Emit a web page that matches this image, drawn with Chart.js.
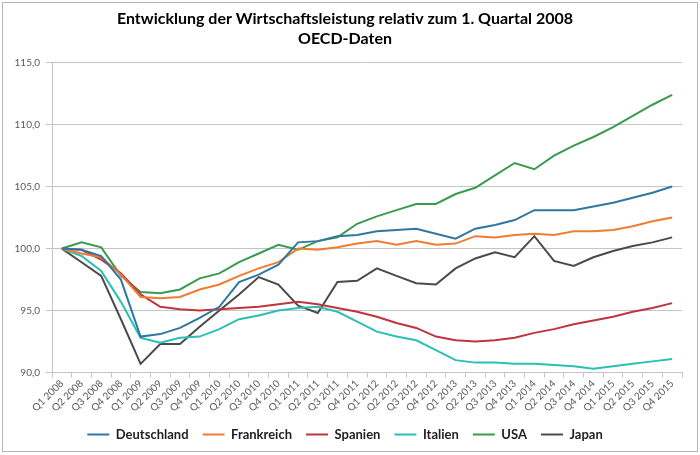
<!DOCTYPE html>
<html>
<head>
<meta charset="utf-8">
<script src="https://cdn.jsdelivr.net/npm/chart.js"></script>
<style>
html, body { margin: 0; padding: 0; background: #fff; }
#wrap { position: relative; width: 700px; height: 455px; }
#frame { position: absolute; left: 2px; top: 2px; width: 694px; height: 448px; border: 1px solid #b5b5b5; pointer-events: none; }
</style>
</head>
<body>
<div id="wrap">
  <canvas id="myChart" width="700" height="455"></canvas>
  <div id="frame"></div>
</div>
<script>
// Quartale
const quarters = [
  "Q1 2008", "Q2 2008", "Q3 2008", "Q4 2008",
  "Q1 2009", "Q2 2009", "Q3 2009", "Q4 2009",
  "Q1 2010", "Q2 2010", "Q3 2010", "Q4 2010",
  "Q1 2011", "Q2 2011", "Q3 2011", "Q4 2011",
  "Q1 2012", "Q2 2012", "Q3 2012", "Q4 2012",
  "Q1 2013", "Q2 2013", "Q3 2013", "Q4 2013",
  "Q1 2014", "Q2 2014", "Q3 2014", "Q4 2014",
  "Q1 2015", "Q2 2015", "Q3 2015", "Q4 2015"
];

// Index, Q1 2008 = 100
const deutschland = [100, 99.9, 99.4, 97.5, 92.9, 93.1, 93.6, 94.4, 95.3, 97.3, 97.9, 98.7,
  100.5, 100.6, 101.0, 101.1, 101.4, 101.5, 101.6, 101.2, 100.8, 101.6, 101.9, 102.3,
  103.1, 103.1, 103.1, 103.4, 103.7, 104.1, 104.5, 105.0];
const frankreich = [100, 99.6, 99.3, 97.9, 96.1, 96.0, 96.1, 96.7, 97.1, 97.8, 98.4, 98.9,
  100.0, 99.9, 100.1, 100.4, 100.6, 100.3, 100.6, 100.3, 100.4, 101.0, 100.9, 101.1,
  101.2, 101.1, 101.4, 101.4, 101.5, 101.8, 102.2, 102.5];
const spanien = [100, 99.9, 99.1, 98.0, 96.3, 95.3, 95.1, 95.0, 95.1, 95.2, 95.3, 95.5,
  95.7, 95.5, 95.2, 94.9, 94.5, 94.0, 93.6, 92.9, 92.6, 92.5, 92.6, 92.8,
  93.2, 93.5, 93.9, 94.2, 94.5, 94.9, 95.2, 95.6];
const italien = [100, 99.4, 98.2, 95.7, 92.8, 92.4, 92.8, 92.9, 93.5, 94.3, 94.6, 95.0,
  95.2, 95.3, 94.9, 94.1, 93.3, 92.9, 92.6, 91.8, 91.0, 90.8, 90.8, 90.7,
  90.7, 90.6, 90.5, 90.3, 90.5, 90.7, 90.9, 91.1];
const usa = [100, 100.5, 100.1, 97.8, 96.5, 96.4, 96.7, 97.6, 98.0, 98.9, 99.6, 100.3,
  99.9, 100.6, 100.9, 102.0, 102.6, 103.1, 103.6, 103.6, 104.4, 104.9, 105.9, 106.9,
  106.4, 107.5, 108.3, 109.0, 109.8, 110.7, 111.6, 112.4];
const japan = [100, 98.9, 97.8, 94.3, 90.7, 92.3, 92.3, 93.7, 95.0, 96.3, 97.7, 97.1,
  95.4, 94.8, 97.3, 97.4, 98.4, 97.8, 97.2, 97.1, 98.4, 99.2, 99.7, 99.3,
  101.0, 99.0, 98.6, 99.3, 99.8, 100.2, 100.5, 100.9];

const names = ["Deutschland", "Frankreich", "Spanien", "Italien", "USA", "Japan"];
const series = [deutschland, frankreich, spanien, italien, usa, japan];
const colors = ["#2F77A1", "#EE7D32", "#C0343F", "#2BC0B4", "#3A9A4F", "#4A4A4A"];

const tickFont = { family: "Lato", size: 10 };
const gridColor = "#c4c4c4";

const datasets = names.map((n, i) => ({
  label: n,
  data: series[i],
  borderColor: colors[i],
  backgroundColor: colors[i],
  borderWidth: 2,
  pointRadius: 0,
  tension: 0,
  fill: false
}));

const ctx = document.getElementById("myChart").getContext("2d");
const myChart = new Chart(ctx, {
  type: "line",
  data: { labels: quarters, datasets: datasets },
  options: {
    responsive: false,
    animation: false,
    devicePixelRatio: 1,
    layout: { padding: { left: 8, right: 18, top: 4, bottom: 4 } },
    plugins: {
      title: {
        display: true,
        text: ["Entwicklung der Wirtschaftsleistung relativ zum 1. Quartal 2008", "OECD-Daten"],
        color: "#000",
        font: { family: "Lato", size: 16, weight: "bold", lineHeight: 1.3 },
        padding: { top: 4, bottom: 13 }
      },
      legend: {
        position: "bottom",
        labels: {
          usePointStyle: true,
          pointStyle: "line",
          pointStyleWidth: 22,
          color: "#222",
          font: { family: "Lato", size: 13, weight: "bold" },
          padding: 14
        }
      },
      tooltip: { enabled: false }
    },
    scales: {
      x: {
        offset: true,
        grid: { drawOnChartArea: false, offset: true, color: gridColor, tickLength: 5 },
        border: { color: gridColor },
        ticks: { autoSkip: false, minRotation: 45, maxRotation: 45, color: "#595959", font: tickFont, padding: 0 }
      },
      y: {
        min: 90,
        max: 115,
        afterFit: s => { s.width = 44; },
        grid: { color: gridColor, tickLength: 6 },
        border: { color: gridColor },
        ticks: {
          stepSize: 5,
          color: "#595959",
          font: tickFont,
          padding: 6,
          callback: v => v.toFixed(1).replace(".", ",")
        }
      }
    }
  }
});
</script>
</body>
</html>
